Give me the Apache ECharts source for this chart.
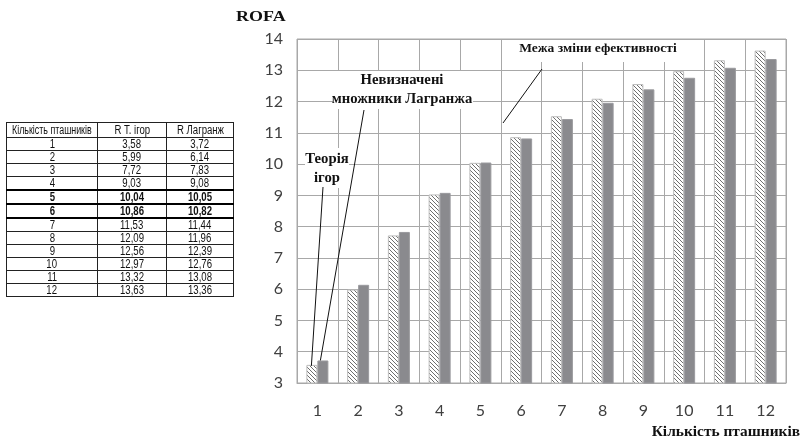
<!DOCTYPE html>
<html>
<head>
<meta charset="utf-8">
<script src="https://cdn.jsdelivr.net/npm/echarts@6/dist/echarts.min.js"></script>
<style>
  html, body { margin: 0; padding: 0; background: #fff; }
  #wrap { position: relative; width: 801px; height: 446px; overflow: hidden; }
  #chart { position: absolute; left: 0; top: 0; width: 801px; height: 446px; }
  #tbl {
    position: absolute; left: 6px; top: 122px; width: 227px; border-collapse: collapse; table-layout: fixed;
    font-family: "Liberation Sans", Arial, sans-serif;
    font-size: 12px; color: #111;
  }
  #tbl td { border: 1px solid #222; padding: 0; text-align: center; line-height: 12px; height: 12px; white-space: nowrap; overflow: hidden; }
  #tbl tr.h td { height: 14px; line-height: 14px; }
  #tbl td span { display: inline-block; margin: 0 -30px; transform: scaleX(0.8); transform-origin: center; }
  #tbl tr.h td:first-child span { transform: scaleX(0.74); }
  #tbl tr.b td { font-weight: bold; border-top: 2px solid #000; border-bottom: 2px solid #000; }
</style>
</head>
<body>
<div id="wrap">
  <div id="chart"></div>
  <table id="tbl"></table>
</div>
<script>
// Number of poultry houses and the two efficiency estimates
const categories = ['1', '2', '3', '4', '5', '6', '7', '8', '9', '10', '11', '12'];
const gameTheory = [3.58, 5.99, 7.72, 9.03, 10.04, 10.86, 11.53, 12.09, 12.56, 12.97, 13.32, 13.63];
const lagrange = [3.72, 6.14, 7.83, 9.08, 10.05, 10.82, 11.44, 11.96, 12.39, 12.76, 13.08, 13.36];
const tableHeader = ['Кількість пташників', 'R T. ігор', 'R Лагранж'];
const boldRows = ['5', '6'];

// Side table built from the same arrays
const fmt = v => v.toFixed(2).replace('.', ',');
const cell = t => '<td><span>' + t + '</span></td>';
const tbl = document.getElementById('tbl');
let html = '<colgroup><col style="width:91px"><col style="width:69px"><col style="width:67px"></colgroup>';
html += '<tr class="h">' + tableHeader.map(cell).join('') + '</tr>';
categories.forEach((c, i) => {
  html += '<tr' + (boldRows.includes(c) ? ' class="b"' : '') + '>' +
    cell(c) + cell(fmt(gameTheory[i])) + cell(fmt(lagrange[i])) + '</tr>';
});
tbl.innerHTML = html;

// Diagonal hatch fill for the game-theory bars
function hatch() {
  const c = document.createElement('canvas');
  c.width = 4; c.height = 4;
  const g = c.getContext('2d');
  g.fillStyle = '#fff'; g.fillRect(0, 0, 4, 4);
  g.strokeStyle = '#6e6e6e'; g.lineWidth = 1;
  g.beginPath();
  g.moveTo(-1, -1); g.lineTo(5, 5);
  g.moveTo(-1, 3); g.lineTo(1, 5);
  g.moveTo(3, -1); g.lineTo(5, 1);
  g.stroke();
  return c;
}

const gridCol = '#a8a8a8';
const serifBold = { fontFamily: '"Liberation Serif", "DejaVu Serif", serif', fontWeight: 'bold', fontSize: 13, fill: '#111' };
const axisFont = { color: '#404040', fontSize: 16, fontFamily: 'Lato, sans-serif' };

const chart = echarts.init(document.getElementById('chart'), null, { renderer: 'canvas' });
chart.setOption({
  animation: false,
  grid: { left: 297, right: 15, top: 39, bottom: 63, show: true, borderColor: gridCol, borderWidth: 1 },
  xAxis: {
    type: 'category', data: categories,
    axisLine: { lineStyle: { color: gridCol } },
    axisTick: { show: false },
    axisLabel: Object.assign({ margin: 20 }, axisFont),
    splitLine: { show: true, lineStyle: { color: gridCol, width: 1 } }
  },
  yAxis: {
    type: 'value', min: 3, max: 14, interval: 1,
    axisLine: { show: false }, axisTick: { show: false },
    axisLabel: Object.assign({ margin: 14 }, axisFont),
    splitLine: { lineStyle: { color: gridCol, width: 1 } }
  },
  series: [
    {
      name: 'R T. ігор', type: 'bar', data: gameTheory, barWidth: 11, barGap: '0%',
      itemStyle: { color: { image: hatch(), repeat: 'repeat' }, borderColor: '#bdbdbd', borderWidth: 1 }
    },
    {
      name: 'R Лагранж', type: 'bar', data: lagrange, barWidth: 11,
      itemStyle: { color: '#8a8a8e', borderColor: '#9a9a9e', borderWidth: 1 }
    }
  ]
});

// Annotation callouts pointing to the first pair of bars
const p1 = chart.convertToPixel({ xAxisIndex: 0, yAxisIndex: 0 }, [0, gameTheory[0]]);
const p2 = chart.convertToPixel({ xAxisIndex: 0, yAxisIndex: 0 }, [0, lagrange[0]]);
const lineStyle = { stroke: '#111', lineWidth: 1 };
const txt = (extra) => Object.assign({}, serifBold, extra);

chart.setOption({
  graphic: [
    { type: 'text', x: 236, y: 10, scaleX: 1.2, z: 100, style: txt({ text: 'ROFA', fontSize: 15 }) },
    { type: 'text', x: 800, y: 425, scaleX: 1.1, z: 100, style: txt({ text: 'Кількість пташників', textAlign: 'right', fontSize: 14 }) },

    { type: 'rect', z: 90, shape: { x: 305, y: 148, width: 44, height: 40 }, style: { fill: '#fff' } },
    { type: 'text', z: 100, x: 327, y: 150, scaleX: 1.05, style: txt({ text: 'Теорія\nігор', textAlign: 'center', lineHeight: 19, fontSize: 14 }) },
    { type: 'line', z: 100, shape: { x1: 323, y1: 187, x2: p1[0] - 6, y2: p1[1] + 1 }, style: lineStyle },

    { type: 'rect', z: 90, shape: { x: 333, y: 71, width: 140, height: 38 }, style: { fill: '#fff' } },
    { type: 'text', z: 100, x: 402, y: 71, scaleX: 1.05, style: txt({ text: 'Невизначені\nмножники Лагранжа', textAlign: 'center', lineHeight: 19, fontSize: 14 }) },
    { type: 'line', z: 100, shape: { x1: 364, y1: 110, x2: p2[0] + 3, y2: p2[1] }, style: lineStyle },

    { type: 'rect', z: 90, shape: { x: 514, y: 40, width: 168, height: 22 }, style: { fill: '#fff' } },
    { type: 'text', z: 100, x: 598, y: 42, style: txt({ text: 'Межа зміни ефективності', textAlign: 'center', fontSize: 13.5 }) },
    { type: 'line', z: 100, shape: { x1: 542, y1: 69, x2: 503, y2: 123 }, style: lineStyle }
  ]
});
</script>
</body>
</html>
